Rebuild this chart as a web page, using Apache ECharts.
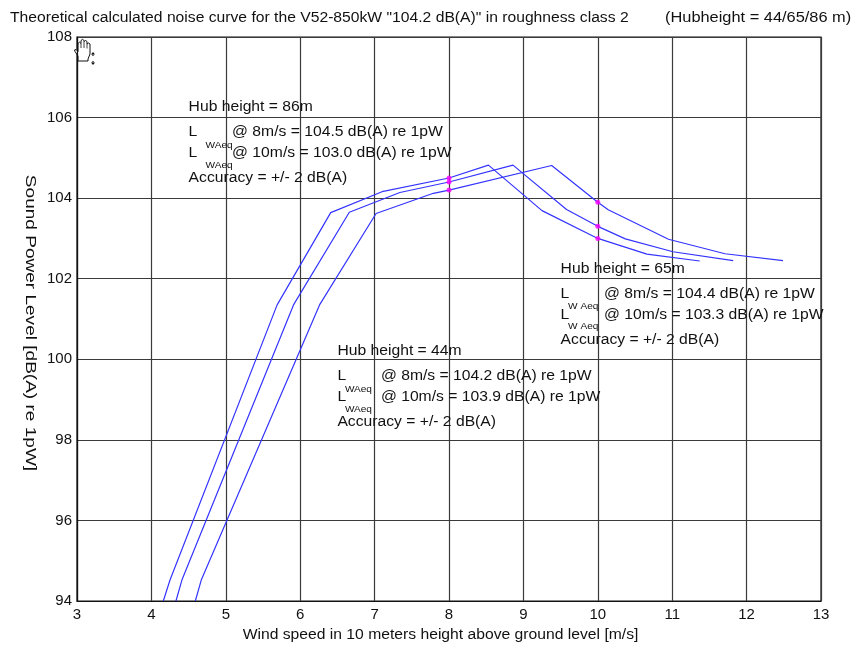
<!DOCTYPE html>
<html>
<head>
<meta charset="utf-8">
<script src="https://cdn.jsdelivr.net/npm/echarts@6/dist/echarts.min.js"></script>
<style>
  html, body { margin: 0; padding: 0; background: #fff; }
  #main { width: 860px; height: 647px; }
</style>
</head>
<body>
<div id="main"></div>
<script>
// Noise curves of the V52-850kW for three hub heights (wind speed at 10 m -> LWA)
const hub86Speed = [4.16, 4.25, 5.69, 6.41, 7.10, 8.00, 8.53, 9.25, 10.00, 10.66, 11.37];
const hub86Level = [94.00, 94.52, 101.35, 103.64, 104.16, 104.50, 104.82, 103.69, 103.00, 102.61, 102.44];

const hub65Speed = [4.33, 4.41, 5.91, 6.66, 7.34, 8.00, 8.86, 9.58, 10.00, 10.37, 11.01, 11.82];
const hub65Level = [94.00, 94.52, 101.35, 103.65, 104.14, 104.40, 104.82, 103.72, 103.30, 102.99, 102.67, 102.45];

const hub44Speed = [4.59, 4.67, 6.26, 7.02, 7.79, 8.00, 9.38, 10.00, 10.14, 10.95, 11.71, 12.49];
const hub44Level = [94.00, 94.52, 101.35, 103.62, 104.12, 104.20, 104.81, 103.90, 103.71, 102.98, 102.62, 102.45];

// Reference wind speeds and the stated LWAeq values at them
const refSpeeds = [8, 10];
const lwa86 = [104.5, 103.0];
const lwa65 = [104.4, 103.3];
const lwa44 = [104.2, 103.9];

// Axis ranges
const xMin = 3, xMax = 13, xStep = 1;
const yMin = 94, yMax = 108, yStep = 2;

const FONT = '"Liberation Sans", Arial, Helvetica, sans-serif';
const SX = 1.12;          // horizontal stretch of the lettering
const LINE_BLUE = '#3434ff';
const MARK = '#ff00ff';

const pairs = (xs, ys) => xs.map((x, i) => [x, ys[i]]);

const chart = echarts.init(document.getElementById('main'), null, { renderer: 'canvas' });

const axisText = { color: '#111', fontSize: 15, fontFamily: FONT };

chart.setOption({
  animation: false,
  backgroundColor: '#fff',
  grid: { left: 77, right: 39, top: 37, bottom: 46, show: true, borderColor: '#111', borderWidth: 1.2, backgroundColor: 'transparent' },
  xAxis: {
    type: 'value', min: xMin, max: xMax, interval: xStep,
    axisLine: { show: true, lineStyle: { color: '#111', width: 1.2 } },
    axisTick: { show: false },
    axisLabel: Object.assign({ margin: 6 }, axisText),
    splitLine: { show: true, lineStyle: { color: '#3a3a3a', width: 1.2 } }
  },
  yAxis: {
    type: 'value', min: yMin, max: yMax, interval: yStep,
    axisLine: { show: true, lineStyle: { color: '#111', width: 1.2 } },
    axisTick: { show: false },
    axisLabel: Object.assign({ margin: 5 }, axisText),
    splitLine: { show: true, lineStyle: { color: '#3a3a3a', width: 1.2 } }
  },
  series: [
    { name: '86m', type: 'line', data: pairs(hub86Speed, hub86Level), showSymbol: false, lineStyle: { color: LINE_BLUE, width: 1.2 }, z: 3 },
    { name: '65m', type: 'line', data: pairs(hub65Speed, hub65Level), showSymbol: false, lineStyle: { color: LINE_BLUE, width: 1.2 }, z: 3 },
    { name: '44m', type: 'line', data: pairs(hub44Speed, hub44Level), showSymbol: false, lineStyle: { color: LINE_BLUE, width: 1.2 }, z: 3 },
    {
      name: 'LWAeq', type: 'scatter', symbol: 'circle', symbolSize: 5,
      itemStyle: { color: MARK },
      data: [].concat(pairs(refSpeeds, lwa86), pairs(refSpeeds, lwa65), pairs(refSpeeds, lwa44)),
      z: 4
    }
  ]
});

// ---- text overlay ----
function txt(x, y, text, opts) {
  opts = opts || {};
  return {
    type: 'text', x: x, y: y, scaleX: opts.sx || SX, rotation: opts.rot || 0, z: 10,
    style: {
      text: text,
      font: (opts.size || 14) + 'px ' + FONT,
      fill: opts.color || '#111',
      align: opts.align || 'left', textAlign: opts.align || 'left',
      verticalAlign: 'middle', textVerticalAlign: 'middle'
    }
  };
}

// One annotation block anchored at a data position (left edge, centre of first line)
function block(anchor, hub, values, sub, subDx) {
  const p = chart.convertToPixel({ gridIndex: 0 }, anchor);
  const x = p[0], y = p[1];
  return [
    txt(x, y, 'Hub height = ' + hub),
    txt(x, y + 25, 'L'),
    txt(x + subDx, y + 38, sub, { size: 9 }),
    txt(x + 43.5, y + 25, '@ ' + refSpeeds[0] + 'm/s = ' + values[0].toFixed(1) + ' dB(A) re 1pW'),
    txt(x, y + 46, 'L'),
    txt(x + subDx, y + 58, sub, { size: 9 }),
    txt(x + 43.5, y + 46, '@ ' + refSpeeds[1] + 'm/s = ' + values[1].toFixed(1) + ' dB(A) re 1pW'),
    txt(x, y + 71, 'Accuracy = +/- 2 dB(A)')
  ];
}

const gfx = [];
gfx.push(txt(10, 18, 'Theoretical calculated noise curve for the V52-850kW "104.2 dB(A)" in roughness class 2'));
gfx.push(txt(665, 18, '(Hubheight = 44/65/86 m)', { sx: 1.17 }));
gfx.push(txt(440.5, 635, 'Wind speed in 10 meters height above ground level [m/s]', { align: 'center' }));
gfx.push(txt(30, 323, 'Sound Power Level [dB(A) re 1pW]', { align: 'center', rot: -Math.PI / 2, sx: 1.36 }));

gfx.push.apply(gfx, block([4.5, 106.25], '86m', lwa86, 'WAeq', 17));
gfx.push.apply(gfx, block([9.5, 102.25], '65m', lwa65, 'W Aeq', 7.5));
gfx.push.apply(gfx, block([6.5, 100.2], '44m', lwa44, 'WAeq', 7.5));

// Pointer (hand) left over at the upper-left corner of the plot
gfx.push({
  type: 'group', x: 74, y: 39, z: 20,
  children: [
    {
      type: 'polygon',
      shape: { points: [[4, 22], [4, 17], [1, 12.5], [0.5, 11], [2, 10.5], [4, 12.5], [4, 4.5], [5.5, 3.2], [7, 4.5], [7, 1.5], [8.5, 0.3], [10, 1.5], [10, 2.5], [11.5, 1.5], [13, 2.5], [13, 5], [14.5, 4], [16, 5], [16, 15], [14, 20], [14, 22]] },
      style: { fill: '#fff', stroke: '#111', lineWidth: 1 }
    },
    { type: 'line', shape: { x1: 7, y1: 4.5, x2: 7, y2: 9 }, style: { stroke: '#111', lineWidth: 0.8 } },
    { type: 'line', shape: { x1: 10, y1: 2.5, x2: 10, y2: 9 }, style: { stroke: '#111', lineWidth: 0.8 } },
    { type: 'line', shape: { x1: 13, y1: 5, x2: 13, y2: 9.5 }, style: { stroke: '#111', lineWidth: 0.8 } },
    { type: 'polygon', shape: { points: [[19, 13], [21, 15.5], [17, 15.5]] }, style: { fill: '#111' } },
    { type: 'line', shape: { x1: 19, y1: 15.5, x2: 19, y2: 17 }, style: { stroke: '#111', lineWidth: 1.2 } },
    { type: 'polygon', shape: { points: [[19, 26], [21, 23.5], [17, 23.5]] }, style: { fill: '#111' } },
    { type: 'line', shape: { x1: 19, y1: 22, x2: 19, y2: 23.5 }, style: { stroke: '#111', lineWidth: 1.2 } }
  ]
});

chart.setOption({ graphic: gfx });
</script>
</body>
</html>
